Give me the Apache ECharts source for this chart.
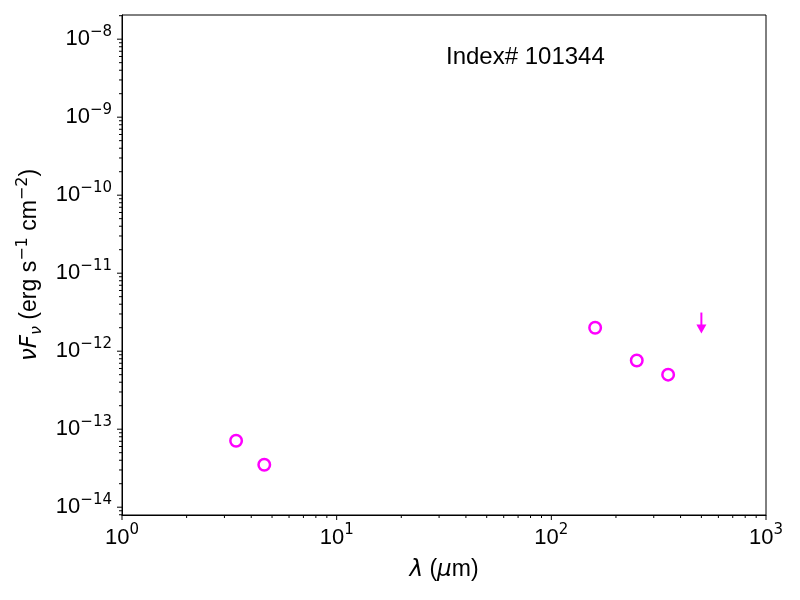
<!DOCTYPE html>
<html>
<head>
<meta charset="utf-8">
<script src="https://cdn.jsdelivr.net/npm/echarts@6/dist/echarts.min.js"></script>
<style>
    html, body {margin: 0; padding: 0; background: #fff;}
    #sedChart {width: 800px; height: 600px;}
</style>
</head>
<body>
<div id="sedChart"></div>
<script>
// photometry points (wavelength in micron, nuFnu in erg s-1 cm-2)
const wavelength = [3.4, 4.6, 160, 250, 350];
const nuFnu = [7.1e-14, 3.5e-14, 2.0e-12, 7.6e-13, 5.0e-13];
// upper limits
const limitWavelength = [500];
const limitNuFnu = [3.13e-12];
// axis extents
const xRange = [1, 1000];
const yRange = [Math.pow(10, -14.10), Math.pow(10, -7.69)];
const labelText = 'Index# 101344';

const font = 'Liberation Sans, Arial, sans-serif';
const mathFont = 'DejaVu Sans';

function logTicks(lo, hi) {
    const ticks = [];
    const e0 = Math.floor(Math.log10(lo)), e1 = Math.ceil(Math.log10(hi));
    for (let e = e0; e <= e1; e++) {
        for (let m = 1; m < 10; m++) {
            const v = m * Math.pow(10, e);
            if (v < lo * 0.999999 || v > hi * 1.000001) continue;
            ticks.push([v, m === 1 ? 1 : 0]);
        }
    }
    return ticks;
}

function powLabel(value) {
    const e = Math.log10(value);
    if (Math.abs(e - Math.round(e)) > 1e-6) return '';
    const n = Math.round(e);
    return '{b|10}{s|' + (n < 0 ? '\u2212' + (-n) : n) + '}';
}

const tickRich = {
    b: {fontSize: 22, lineHeight: 30, fontFamily: font, color: '#000'},
    s: {fontSize: 15, lineHeight: 12, fontFamily: mathFont, color: '#000', verticalAlign: 'top'}
};

const nameRich = {
    n: {fontSize: 23, lineHeight: 30, fontFamily: font, color: '#000'},
    i: {fontSize: 23, lineHeight: 30, fontFamily: mathFont, fontStyle: 'italic', color: '#000'},
    sub: {fontSize: 16, lineHeight: 20, fontFamily: mathFont, fontStyle: 'italic', color: '#000', verticalAlign: 'bottom'},
    sup: {fontSize: 16, lineHeight: 12, fontFamily: mathFont, color: '#000', verticalAlign: 'top'}
};

const xTicks = logTicks(xRange[0], xRange[1]);
const yTicks = logTicks(yRange[0], yRange[1]);

const myChart = echarts.init(document.getElementById('sedChart'));

const option = {
    backgroundColor: '#ffffff',
    animation: false,
    grid: {
        top: 15,
        left: 122,
        right: 34,
        bottom: 85,
        show: true,
        borderColor: '#000',
        borderWidth: 1
    },
    graphic: [{
        type: 'text',
        x: 446,
        y: 57,
        style: {
            text: labelText,
            font: '24px ' + font,
            fill: '#000',
            verticalAlign: 'middle'
        }
    }],
    xAxis: {
        type: 'log',
        logBase: 10,
        min: xRange[0],
        max: xRange[1],
        name: '{i|\u03bb}{n| (}{i|\u03bc}{n|m)}',
        nameLocation: 'middle',
        nameGap: 40,
        nameTextStyle: {rich: nameRich},
        axisLine: {lineStyle: {color: '#000', width: 1}},
        axisTick: {show: false},
        splitLine: {show: false},
        minorTick: {show: false},
        axisLabel: {
            margin: 8,
            formatter: powLabel,
            rich: tickRich
        }
    },
    yAxis: {
        type: 'log',
        logBase: 10,
        min: yRange[0],
        max: yRange[1],
        name: '{i|\u03bd}{i|F}{sub|\u03bd}{n| (erg s}{sup|\u22121}{n| cm}{sup|\u22122}{n|)}',
        nameLocation: 'middle',
        nameGap: 74,
        nameTextStyle: {rich: nameRich},
        axisLine: {lineStyle: {color: '#000', width: 1}},
        axisTick: {show: false},
        splitLine: {show: false},
        minorTick: {show: false},
        axisLabel: {
            margin: 10,
            showMinLabel: false,
            showMaxLabel: false,
            formatter: powLabel,
            rich: tickRich
        }
    },
    series: [
        {
            // x ticks drawn by hand so minor ticks sit at 2..9 x 10^k
            type: 'custom',
            silent: true,
            data: xTicks.map(function (t) { return [t[0], yRange[0], t[1]]; }),
            renderItem: function (params, api) {
                const cs = params.coordSys;
                const x = api.coord([api.value(0), yRange[0]])[0];
                const len = api.value(2) ? 5 : 3;
                const y0 = cs.y + cs.height;
                return {
                    type: 'line',
                    shape: {x1: x, y1: y0, x2: x, y2: y0 + len},
                    style: {stroke: '#000', lineWidth: 1}
                };
            }
        },
        {
            type: 'custom',
            silent: true,
            data: yTicks.map(function (t) { return [xRange[0], t[0], t[1]]; }),
            renderItem: function (params, api) {
                const cs = params.coordSys;
                const y = api.coord([xRange[0], api.value(1)])[1];
                const len = api.value(2) ? 5 : 3;
                return {
                    type: 'line',
                    shape: {x1: cs.x, y1: y, x2: cs.x - len, y2: y},
                    style: {stroke: '#000', lineWidth: 1}
                };
            }
        },
        {
            name: 'photometry',
            type: 'scatter',
            data: wavelength.map(function (w, i) { return [w, nuFnu[i]]; }),
            symbol: 'circle',
            symbolSize: 11.5,
            itemStyle: {
                color: '#ffffff',
                borderColor: '#ff00ff',
                borderWidth: 2.5,
                opacity: 1
            }
        },
        {
            name: 'upper limit',
            type: 'custom',
            data: limitWavelength.map(function (w, i) { return [w, limitNuFnu[i]]; }),
            renderItem: function (params, api) {
                const p = api.coord([api.value(0), api.value(1)]);
                const tip = p[1] + 21;
                return {
                    type: 'group',
                    children: [
                        {
                            type: 'line',
                            shape: {x1: p[0], y1: p[1], x2: p[0], y2: tip - 6},
                            style: {stroke: '#ff00ff', lineWidth: 2}
                        },
                        {
                            type: 'polygon',
                            shape: {points: [[p[0] - 5, tip - 9], [p[0] + 5, tip - 9], [p[0], tip]]},
                            style: {fill: '#ff00ff'}
                        }
                    ]
                };
            }
        }
    ]
};

myChart.setOption(option);
window.onresize = myChart.resize;
</script>
</body>
</html>
